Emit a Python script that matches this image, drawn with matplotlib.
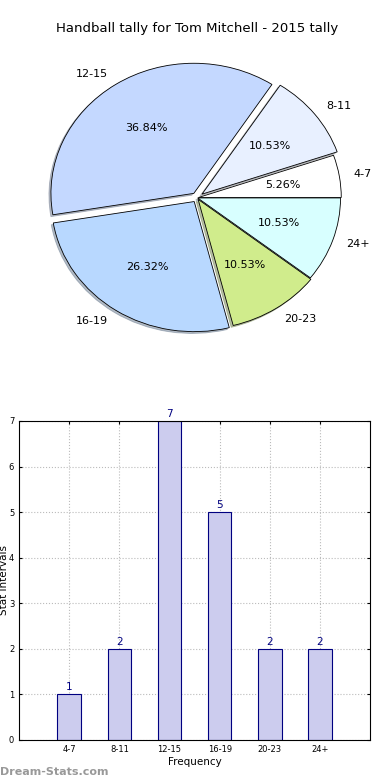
import numpy as np
import matplotlib
matplotlib.use('Agg')
import matplotlib.pyplot as plt

# tally data
categories = ['4-7', '8-11', '12-15', '16-19', '20-23', '24+']
counts = [1, 2, 7, 5, 2, 2]
pie_colors = ['#ffffff', '#e8f0ff', '#c4d8ff', '#b8d8ff', '#d0ec8c', '#d8ffff']
explode = [0.01, 0.045, 0.04, 0.035, 0.015, 0.005]

fig = plt.figure(figsize=(3.9, 7.8), dpi=100)

# pie on top
ax1 = fig.add_axes([0.047, 0.538, 0.916, 0.417])
wedges, texts, autotexts = ax1.pie(counts, labels=categories, colors=pie_colors,
                                   explode=explode, autopct='%1.2f%%',
                                   shadow={'ox': -0.01, 'oy': -0.01, 'shade': 0.45},
                                   startangle=0, labeldistance=1.1, pctdistance=0.6,
                                   wedgeprops={'edgecolor': 'black', 'linewidth': 0.6},
                                   textprops={'fontsize': 8})
ax1.set_aspect('auto')
ax1.set_xlim(-1.25, 1.25)
ax1.set_ylim(-1.25, 1.25)
ax1.set_title('Handball tally for Tom Mitchell - 2015 tally', fontsize=9.5, pad=-1)

# bar chart below
ax2 = fig.add_axes([0.049, 0.0513, 0.9, 0.409])
x = np.arange(len(categories))
bars = ax2.bar(x, counts, width=0.47, color='#ccccee', edgecolor='navy', linewidth=0.8, zorder=2)
for xi, v in zip(x, counts):
    ax2.text(xi, v + 0.05, str(v), ha='center', va='bottom', color='navy', fontsize=7.5)
ax2.set_xlim(-1, 6)
ax2.set_ylim(0, 7)
ax2.set_xticks(x)
ax2.set_xticklabels(categories)
ax2.tick_params(labelsize=6, length=2, direction='in', top=True, right=True)
ax2.grid(True, linestyle=':', color='#bbbbbb', linewidth=0.8, zorder=0)
ax2.set_xlabel('Frequency', fontsize=7.5, labelpad=2)
ax2.set_ylabel('Stat Intervals', fontsize=7.5)
ax2.yaxis.set_label_coords(-0.028, 0.5)

fig.text(0.0, 0.006, 'Dream-Stats.com', color='#999999', fontsize=8, fontweight='bold')

fig.savefig('out.png', dpi=100)
